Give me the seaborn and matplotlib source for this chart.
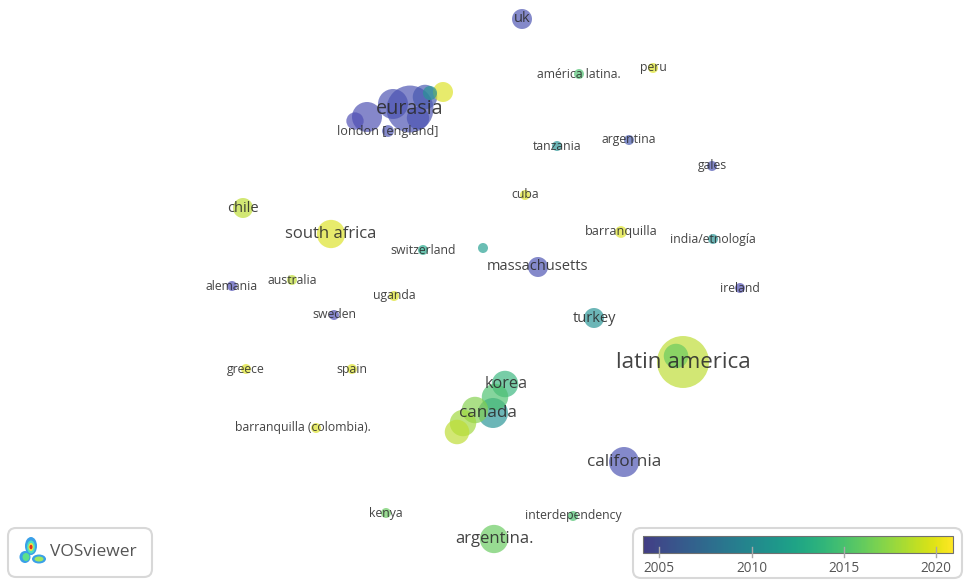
import numpy as np
import pandas as pd
import seaborn as sns
import matplotlib
matplotlib.use("Agg")
import matplotlib.pyplot as plt
from matplotlib.colors import LinearSegmentedColormap
from matplotlib.patches import FancyBboxPatch, Ellipse, Rectangle

# ---------------- data (map coordinates, occurrences, avg. pub. year) ----------------
labels = ["uk", "américa latina.", "peru",
          "eurasia", "", "", "", "", "", "", "", "london [england]",
          "tanzania", "argentina", "gales", "cuba", "chile", "south africa",
          "switzerland", "", "barranquilla", "india/etnología", "massachusetts",
          "alemania", "australia", "uganda", "ireland", "sweden", "turkey",
          "latin america", "", "greece", "spain",
          "korea", "", "canada", "", "", "",
          "barranquilla (colombia).", "california", "kenya", "interdependency",
          "argentina."]
map_x = [522, 579, 653,
         410, 418, 367, 355, 393, 425, 443, 430, 388,
         557, 629, 712, 525, 243, 331,
         423, 483, 621, 713, 538,
         232, 292, 394, 740, 334, 594,
         683, 676, 246, 352,
         505, 495, 493, 475, 463, 457,
         316, 624, 386, 573,
         494]
map_y = [19, 74, 68,
         109, 118, 117, 121, 104, 97, 92, 93, 131,
         146, 140, 166, 195, 208, 234,
         250, 248, 232, 239, 267,
         286, 280, 296, 288, 315, 318,
         362, 356, 369, 369,
         384, 397, 413, 410, 423, 432,
         428, 462, 513, 516,
         539]
occurrences = [4, 1, 1,
               22, 5, 9, 3, 9, 6, 4, 2, 1.4,
               1, 1, 1, 1, 4, 8,
               1, 1, 1.4, 1, 4,
               1, 1, 1, 1, 1, 4,
               27, 6, 1, 1,
               7, 7, 9, 7, 7, 6,
               1, 9, 1, 1,
               8]
avg_year = [2006, 2015, 2020,
            2006, 2006, 2005.5, 2005, 2006, 2007, 2020, 2011, 2006,
            2011, 2007, 2006, 2020, 2019, 2020,
            2013, 2012, 2020, 2011, 2006,
            2005, 2019, 2020, 2005, 2005, 2011,
            2019, 2016, 2020, 2020,
            2014, 2015, 2011, 2017, 2018, 2019,
            2020, 2006, 2016, 2015,
            2016]
label_dx = {"barranquilla (colombia).": -13, "korea": 1, "canada": -5}
label_scale = {"eurasia": 0.93}

year_ticks = [2005, 2010, 2015, 2020]
year_range = (2004.13, 2020.9)

df = pd.DataFrame({"label": labels, "x": map_x, "y": map_y,
                   "occ": occurrences, "year": avg_year})
df = df.sort_values("occ", ascending=False, kind="stable").reset_index(drop=True)

base = plt.get_cmap("viridis")
bar_cmap = LinearSegmentedColormap.from_list(
    "vos", base(np.linspace(0.18, 1.0, 256)))
node_cmap = LinearSegmentedColormap.from_list(
    "vosnode", [(0.0, "#5048b4"), (0.17, "#4658b0"), (0.35, "#2a8a98"),
                (0.52, "#22a88e"), (0.66, "#50c46c"), (0.84, "#a6da3a"),
                (1.0, "#f6e61e")])

FONT = ["Open Sans", "DejaVu Sans"]
plt.rcParams["font.family"] = FONT

fig = plt.figure(figsize=(9.71, 5.85), dpi=100)
ax = fig.add_axes([0, 0, 1, 1])

# radius 5 px for one occurrence -> marker area in pt^2
unit = (2 * 5 * 72 / 100) ** 2
sns.scatterplot(data=df, x="x", y="y", hue="year", palette=node_cmap,
                hue_norm=year_range, s=df["occ"].values * unit,
                alpha=0.68, edgecolor="none", linewidth=0, legend=False, ax=ax)

for _, r in df.iterrows():
    if not r["label"]:
        continue
    fs = (8.8 + 1.75 * (np.sqrt(r["occ"]) - 1)) * label_scale.get(r["label"], 1)
    ax.text(r["x"] + label_dx.get(r["label"], 0), r["y"], r["label"],
            ha="center", va="center", fontsize=fs, color="#2a2a2a",
            alpha=0.88, zorder=5)

# ---------------- colour bar box ----------------
ax.add_patch(FancyBboxPatch((633, 528), 329, 50,
                            boxstyle="round,pad=0,rounding_size=8",
                            fc="white", ec="#d8d8d8", lw=1.5, zorder=6))
grad = np.linspace(0, 1, 256).reshape(1, -1)
ax.imshow(grad, extent=(643, 953, 553, 536), aspect="auto", cmap=bar_cmap,
          zorder=7)
ax.add_patch(Rectangle((643, 536), 310, 17, fc="none", ec="#707070",
                       lw=0.8, zorder=8))
x0, x1 = 643, 953
for yr in year_ticks:
    xp = x0 + (yr - year_range[0]) / (year_range[1] - year_range[0]) * (x1 - x0)
    ax.plot([xp, xp], [547, 557], color="#a8a8a8", lw=1, zorder=9)
    ax.text(xp, 568, str(yr), ha="center", va="center", fontsize=9.8,
            color="#555555", zorder=9)

# ---------------- VOSviewer logo box ----------------
ax.add_patch(FancyBboxPatch((8, 528), 144, 49,
                            boxstyle="round,pad=0,rounding_size=8",
                            fc="white", ec="#d8d8d8", lw=1.5, zorder=6))
logo = [((31, 546), 12, 18, "#3aa0e8"), ((25, 557), 11, 12, "#3aa0e8"),
        ((39, 559), 14, 9, "#3aa0e8"),
        ((31, 547), 8, 13, "#4fe0c0"), ((26, 557), 7, 8, "#5ce08a"),
        ((39, 559), 9, 5, "#9ee860"),
        ((31, 547), 5, 8, "#f0e040"), ((31, 547), 3, 4.5, "#e03020")]
for (cx, cy), w, h, c in logo:
    ax.add_patch(Ellipse((cx, cy), w, h, fc=c, ec="none", zorder=7))
ax.text(50, 552, "VOSviewer", ha="left", va="center", fontsize=12.5,
        color="#555555", zorder=8)

ax.set_xlim(0, 971)
ax.set_ylim(585, 0)
ax.axis("off")

fig.savefig("out.png", dpi=100)
